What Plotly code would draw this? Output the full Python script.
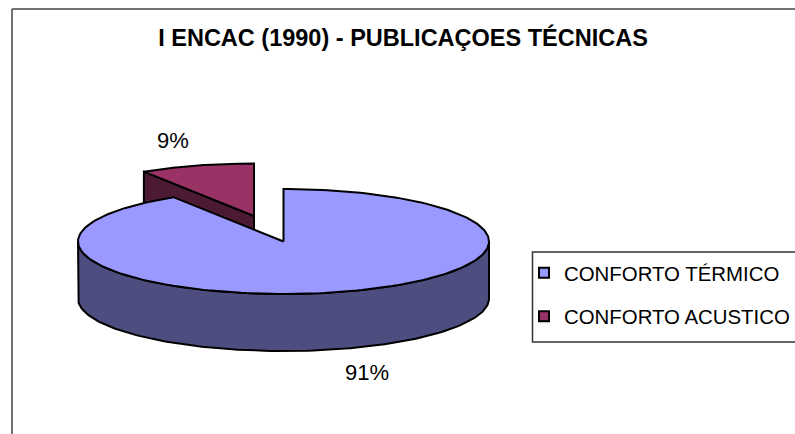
import numpy as np
import plotly.graph_objects as go

categories = ["CONFORTO TÉRMICO", "CONFORTO ACUSTICO"]
values = [91, 9]
top_colors = ["#9999FF", "#993366"]
side_colors = ["#4D4D80", "#4D1A33"]
title_text = "I ENCAC (1990) - PUBLICAÇOES TÉCNICAS"

W, H = 795, 434
CX, CY, RX, RY, DEPTH = 283.5, 241.5, 205.5, 52.5, 57
EXPLODE = (-29.5, -25.5)
LINE = dict(color="black", width=2)


def arc(t0, t1, cx, cy, n=120):
    t = np.radians(np.linspace(t0, t1, n))
    return cx + RX * np.sin(t), cy - RY * np.cos(t)


total = sum(values)
blue_end = 360 * values[0] / total
rcx, rcy = CX + EXPLODE[0], CY + EXPLODE[1]

fig = go.Figure()


def poly(x, y, color):
    fig.add_trace(go.Scatter(
        x=np.r_[x, x[0]], y=np.r_[y, y[0]], mode="lines", fill="toself",
        fillcolor=color, line=LINE, showlegend=False, hoverinfo="skip"))


# second slice: cut face, then top
rx_arc, ry_arc = arc(blue_end, 360, rcx, rcy)
poly(np.array([rcx, rx_arc[0], rx_arc[0], rcx]),
     np.array([rcy, ry_arc[0], ry_arc[0] + DEPTH, rcy + DEPTH]), side_colors[1])
poly(np.r_[rcx, rx_arc], np.r_[rcy, ry_arc], top_colors[1])

# first slice: front wall, then top
bx, by = arc(90, 270, CX, CY)
poly(np.r_[bx, bx[::-1]], np.r_[by, by[::-1] + DEPTH], side_colors[0])
tx, ty = arc(0, blue_end, CX, CY, 240)
poly(np.r_[CX, tx], np.r_[CY, ty], top_colors[0])

# legend entries
for i, (name, col) in enumerate(zip(categories, top_colors)):
    fig.add_trace(go.Scatter(
        x=[None], y=[None], mode="markers", name=name, legendgroup=name,
        marker=dict(symbol="square", size=10, color=col,
                    line=dict(color="black", width=2))))

fig.update_layout(
    width=W, height=H, margin=dict(l=0, r=0, t=0, b=0),
    paper_bgcolor="white", plot_bgcolor="white",
    font=dict(family="Liberation Sans, Arial, sans-serif", color="black"),
    xaxis=dict(range=[0, W], visible=False, fixedrange=True),
    yaxis=dict(range=[H, 0], visible=False, fixedrange=True),
    title=dict(text="<b>" + title_text + "</b>", x=403 / W, xanchor="center",
               y=1 - 38 / H, yanchor="middle", font=dict(size=23.5)),
    legend=dict(x=524 / W, xanchor="left", y=1 - 253 / H, yanchor="top",
                bgcolor="rgba(0,0,0,0)", font=dict(size=20.4),
                tracegroupgap=14, traceorder="grouped"),
    shapes=[
        dict(type="line", xref="paper", yref="paper", x0=12 / W, x1=12 / W,
             y0=0, y1=1 - 9 / H, line=dict(color="#444444", width=1.5)),
        dict(type="line", xref="paper", yref="paper", x0=12 / W, x1=1,
             y0=1 - 9 / H, y1=1 - 9 / H, line=dict(color="#444444", width=1.5)),
        dict(type="rect", xref="paper", yref="paper", x0=532.5 / W, x1=1.01,
             y0=1 - 342 / H, y1=1 - 252 / H, line=dict(color="#333333", width=1.5)),
    ],
    annotations=[
        dict(text=f"{values[1]}%", x=173, y=140.5, xref="x", yref="y",
             showarrow=False, font=dict(size=22)),
        dict(text=f"{values[0]}%", x=367, y=372, xref="x", yref="y",
             showarrow=False, font=dict(size=22)),
    ],
)
fig.write_html("out.html", config={"displayModeBar": False},
               post_script="document.body.style.margin='0';document.documentElement.style.overflow='hidden';")
